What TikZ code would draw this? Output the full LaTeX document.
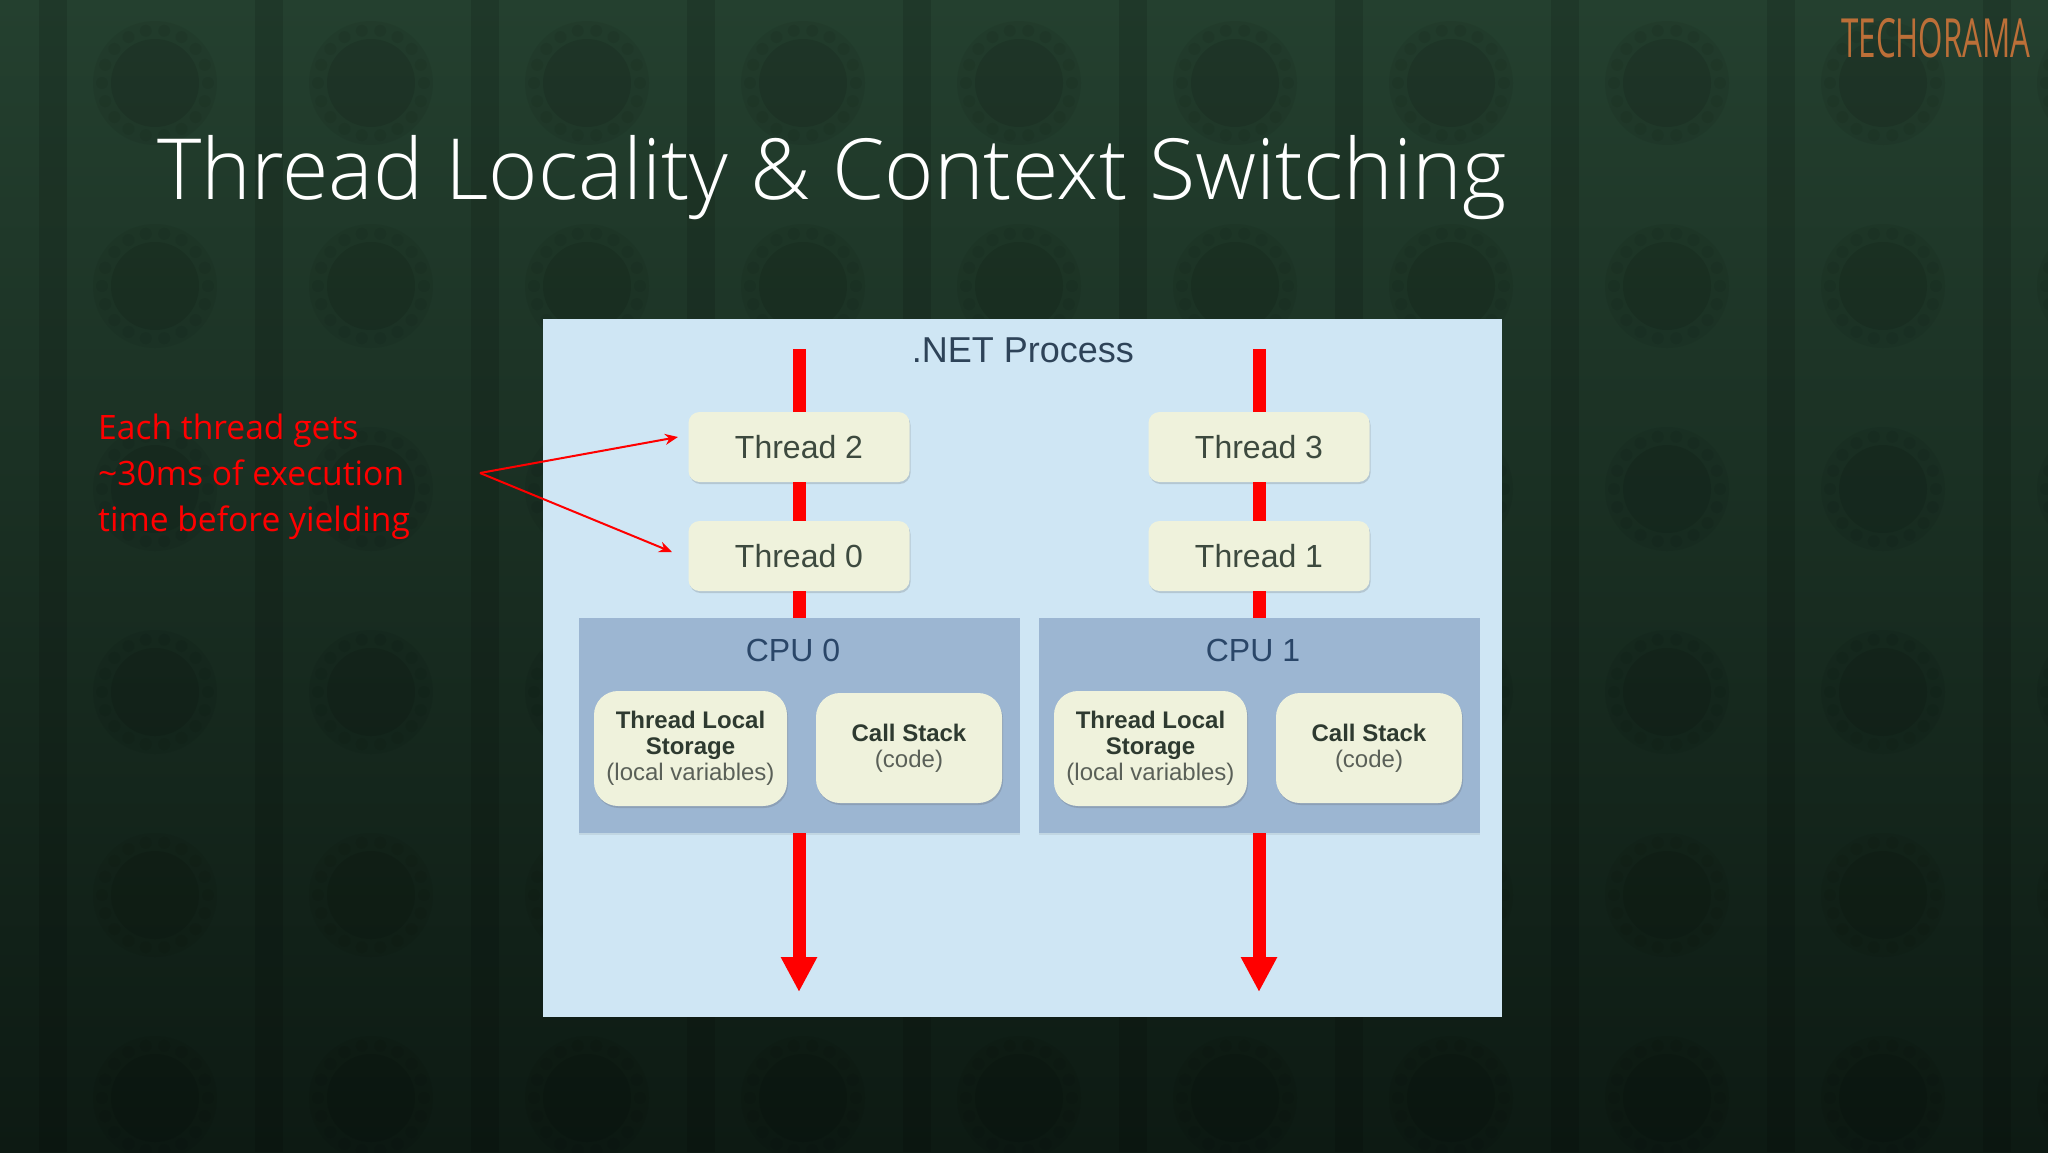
\documentclass[tikz,border=0pt]{standalone}
\usepackage{fontspec}
\setmainfont{Liberation Sans}
\newfontfamily\slidefont[UprightFont=* Light]{Open Sans}
\newfontfamily\notefont{Open Sans}
\usetikzlibrary{arrows.meta,shadows}
\definecolor{bgtop}{HTML}{24402F}
\definecolor{bgmid}{HTML}{182E22}
\definecolor{bgend}{HTML}{0D1A13}
\definecolor{panelblue}{HTML}{CFE6F4}
\definecolor{cpublue}{HTML}{9CB6D2}
\definecolor{boxcream}{HTML}{EFF2DC}
\definecolor{threadtext}{HTML}{3D4A3F}
\definecolor{boldtext}{HTML}{2E3A30}
\definecolor{parentext}{HTML}{5A6058}
\definecolor{cputext}{HTML}{2A4668}
\definecolor{nettext}{HTML}{2E4358}
\definecolor{logotext}{HTML}{BC6F38}
\tikzstyle{softshadow} = [drop shadow={shadow xshift=1pt, shadow yshift=-2pt,
                          opacity=.2, fill=black!70}]
\tikzstyle{threadbox} = [rectangle, rounded corners=11pt, fill=boxcream,
                         minimum width=221pt, minimum height=70pt,
                         inner sep=0pt, text=threadtext, softshadow,
                         font=\fontsize{32}{38}\selectfont]
\tikzstyle{cpubox} = [rectangle, fill=cpublue, minimum width=441pt,
                      minimum height=215pt, inner sep=0pt,
                      drop shadow={shadow xshift=0pt, shadow yshift=-2pt,
                                   opacity=.1, fill=black!70}]
\tikzstyle{memlarge} = [rectangle, rounded corners=24pt, fill=boxcream,
                        minimum width=193pt, minimum height=115pt,
                        inner sep=0pt, align=center, softshadow,
                        text=boldtext, font=\fontsize{24}{26}\selectfont]
\tikzstyle{memsmall} = [memlarge, minimum width=186pt, minimum height=110pt]
\tikzstyle{trunk} = [draw=red, line width=13pt]
\tikzstyle{callout} = [draw=red, line width=2pt,
                       -{Stealth[length=13pt,width=11pt]}]
\newcommand{\parenline}[1]{{\color{parentext}#1}}
\begin{document}
\begin{tikzpicture}[x=1pt,y=-1pt]
  \useasboundingbox (0,0) rectangle (2048,1152);
  % background
  \shade[top color=bgtop, middle color=bgmid, bottom color=bgend] (0,0) rectangle (2048,1152);
  \foreach \col in {0,...,9} {
    \fill[black, opacity=.12] (39+216*\col,0) rectangle (67+216*\col,1152);
    \foreach \row in {0,...,5} {
      \fill[black, opacity=.05] (155+216*\col,83+203*\row) circle (62);
      \fill[black, opacity=.09] (155+216*\col,83+203*\row) circle (44);
      \foreach \ang in {0,20,...,340}
        \fill[black, opacity=.05] (155+216*\col,83+203*\row) ++(\ang:53) circle (6);
    }
  }
  \node[anchor=base west, inner sep=0pt, text=white] (title) at (157,199)
    {\slidefont\fontsize{84.4}{90}\selectfont Thread Locality \& Context Switching};
  \node[inner sep=0pt, text=logotext] (logo) at (1936,38)
    {\scalebox{0.58}[1]{\notefont\fontsize{54}{54}\selectfont TECHORAMA}};
  % process
  \node[rectangle, fill=panelblue, minimum width=959pt, minimum height=698pt,
        inner sep=0pt] (process) at (1022.5,668) {};
  \node[inner sep=0pt, text=nettext, font=\fontsize{36}{40}\selectfont] (nettitle)
    at (1023,350) {.NET Process};
  % CPU 0
  \coordinate (start0) at (799,349);
  \coordinate (end0) at (799,992);
  \node[threadbox] (thread2) at (799,447) {Thread 2};
  \node[threadbox] (thread0) at (799,556) {Thread 0};
  \node[cpubox] (cpu0) at (799,725.5) {};
  \node[inner sep=0pt, text=cputext, font=\fontsize{32}{36}\selectfont] (cpu0title)
    at (793,650) {CPU 0};
  \node[memlarge] (tls0) at (690.5,748.5)
    {\textbf{Thread Local}\\\textbf{Storage}\\\parenline{(local variables)}};
  \node[memsmall] (stack0) at (909,748)
    {\textbf{Call Stack}\\\parenline{(code)}};
  % CPU 1
  \coordinate (start1) at (1259,349);
  \coordinate (end1) at (1259,992);
  \node[threadbox] (thread3) at (1259,447) {Thread 3};
  \node[threadbox] (thread1) at (1259,556) {Thread 1};
  \node[cpubox] (cpu1) at (1259,725.5) {};
  \node[inner sep=0pt, text=cputext, font=\fontsize{32}{36}\selectfont] (cpu1title)
    at (1253,650) {CPU 1};
  \node[memlarge] (tls1) at (1150.5,748.5)
    {\textbf{Thread Local}\\\textbf{Storage}\\\parenline{(local variables)}};
  \node[memsmall] (stack1) at (1369,748)
    {\textbf{Call Stack}\\\parenline{(code)}};
  % threads running down
  \foreach \first/\upper/\lower/\cpu/\stop in {start0/thread2/thread0/cpu0/end0,
                                               start1/thread3/thread1/cpu1/end1} {
    \draw[trunk] (\first) -- (\upper.north);
    \draw[trunk] (\upper.south) -- (\lower.north);
    \draw[trunk] (\lower.south) -- (\cpu.north);
    \draw[trunk, -{Triangle[length=35pt,width=34pt]}] (\cpu.south) -- (\stop);
  }
  % note on the left
  \node[anchor=west, inner sep=0pt, align=left, text=red,
        font=\notefont\fontsize{33.6}{46}\selectfont] (note) at (98,477)
    {Each thread gets\\\textasciitilde30ms of execution\\time before yielding};
  \coordinate (notetip) at (480,473);
  \coordinate (tip2) at (678,437);
  \coordinate (tip0) at (672,552);
  \draw[callout] (notetip) -- (tip2);
  \draw[callout] (notetip) -- (tip0);
\end{tikzpicture}
\end{document}
